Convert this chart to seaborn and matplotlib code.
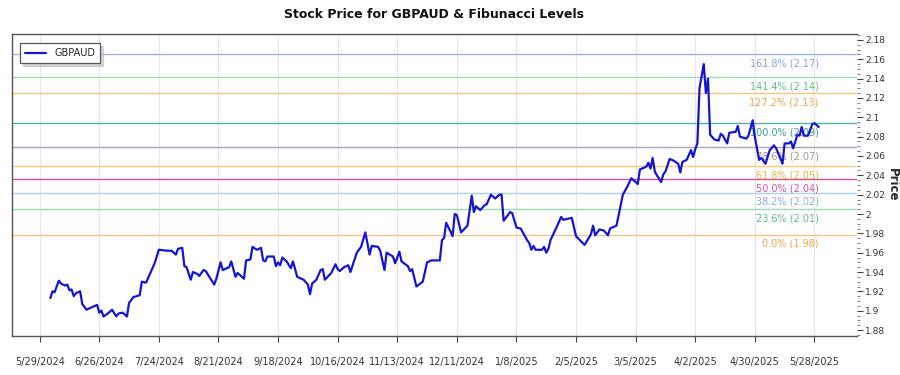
import matplotlib
matplotlib.use("Agg")
import matplotlib.pyplot as plt
import matplotlib.ticker as mticker
import seaborn as sns
import pandas as pd
import numpy as np

dates = [
    "2024-06-03", "2024-06-04", "2024-06-05", "2024-06-07", "2024-06-08", "2024-06-10", "2024-06-11", "2024-06-12",
    "2024-06-13", "2024-06-14", "2024-06-15", "2024-06-17", "2024-06-18", "2024-06-20", "2024-06-21", "2024-06-25",
    "2024-06-26", "2024-06-27", "2024-06-28", "2024-06-30", "2024-07-02", "2024-07-04", "2024-07-05", "2024-07-07",
    "2024-07-09", "2024-07-10", "2024-07-12", "2024-07-15", "2024-07-16", "2024-07-18", "2024-07-22", "2024-07-24",
    "2024-07-28", "2024-07-30", "2024-08-01", "2024-08-02", "2024-08-04", "2024-08-05", "2024-08-06", "2024-08-08",
    "2024-08-09", "2024-08-11", "2024-08-12", "2024-08-14", "2024-08-15", "2024-08-19", "2024-08-20", "2024-08-22",
    "2024-08-23", "2024-08-26", "2024-08-27", "2024-08-29", "2024-08-30", "2024-09-02", "2024-09-03", "2024-09-05",
    "2024-09-06", "2024-09-08", "2024-09-10", "2024-09-11", "2024-09-12", "2024-09-13", "2024-09-16", "2024-09-17",
    "2024-09-18", "2024-09-19", "2024-09-20", "2024-09-22", "2024-09-24", "2024-09-25", "2024-09-27", "2024-09-30",
    "2024-10-02", "2024-10-03", "2024-10-04", "2024-10-06", "2024-10-08", "2024-10-09", "2024-10-10", "2024-10-13",
    "2024-10-15", "2024-10-16", "2024-10-17", "2024-10-19", "2024-10-21", "2024-10-22", "2024-10-25", "2024-10-27",
    "2024-10-29", "2024-10-31", "2024-11-01", "2024-11-04", "2024-11-05", "2024-11-07", "2024-11-08", "2024-11-11",
    "2024-11-12", "2024-11-14", "2024-11-15", "2024-11-18", "2024-11-19", "2024-11-20", "2024-11-22", "2024-11-25",
    "2024-11-27", "2024-11-29", "2024-12-03", "2024-12-04", "2024-12-05", "2024-12-06", "2024-12-08", "2024-12-09",
    "2024-12-10", "2024-12-11", "2024-12-13", "2024-12-16", "2024-12-18", "2024-12-19", "2024-12-20", "2024-12-22",
    "2024-12-24", "2024-12-25", "2024-12-27", "2024-12-29", "2024-12-31", "2025-01-01", "2025-01-02", "2025-01-05",
    "2025-01-06", "2025-01-08", "2025-01-10", "2025-01-13", "2025-01-14", "2025-01-15", "2025-01-16", "2025-01-17",
    "2025-01-20", "2025-01-21", "2025-01-22", "2025-01-23", "2025-01-24", "2025-01-27", "2025-01-29", "2025-01-30",
    "2025-02-03", "2025-02-05", "2025-02-09", "2025-02-12", "2025-02-13", "2025-02-14", "2025-02-16", "2025-02-18",
    "2025-02-20", "2025-02-21", "2025-02-24", "2025-02-26", "2025-02-27", "2025-03-01", "2025-03-03", "2025-03-05",
    "2025-03-06", "2025-03-07", "2025-03-10", "2025-03-11", "2025-03-12", "2025-03-13", "2025-03-14", "2025-03-15",
    "2025-03-17", "2025-03-18", "2025-03-19", "2025-03-21", "2025-03-23", "2025-03-25", "2025-03-26", "2025-03-27",
    "2025-03-29", "2025-03-31", "2025-04-01", "2025-04-02", "2025-04-03", "2025-04-04", "2025-04-06", "2025-04-07",
    "2025-04-08", "2025-04-09", "2025-04-11", "2025-04-13", "2025-04-14", "2025-04-15", "2025-04-17", "2025-04-18",
    "2025-04-21", "2025-04-22", "2025-04-23", "2025-04-26", "2025-04-27", "2025-04-29", "2025-04-30", "2025-05-02",
    "2025-05-03", "2025-05-05", "2025-05-07", "2025-05-09", "2025-05-10", "2025-05-13", "2025-05-14", "2025-05-16",
    "2025-05-17", "2025-05-18", "2025-05-20", "2025-05-21", "2025-05-22", "2025-05-23", "2025-05-25", "2025-05-27",
    "2025-05-28", "2025-05-29", "2025-05-30",
]

prices = [
    1.913, 1.920, 1.919, 1.931, 1.928, 1.926, 1.927, 1.921,
    1.922, 1.915, 1.918, 1.920, 1.907, 1.901, 1.902, 1.906,
    1.898, 1.900, 1.894, 1.897, 1.901, 1.894, 1.897, 1.898,
    1.894, 1.908, 1.914, 1.916, 1.930, 1.929, 1.949, 1.963,
    1.962, 1.962, 1.958, 1.964, 1.965, 1.946, 1.945, 1.932,
    1.940, 1.938, 1.936, 1.942, 1.941, 1.927, 1.933, 1.950,
    1.942, 1.945, 1.951, 1.935, 1.939, 1.933, 1.952, 1.953,
    1.966, 1.963, 1.965, 1.952, 1.951, 1.956, 1.956, 1.946,
    1.950, 1.947, 1.955, 1.951, 1.944, 1.951, 1.935, 1.932,
    1.927, 1.917, 1.928, 1.932, 1.942, 1.943, 1.932, 1.939,
    1.948, 1.943, 1.941, 1.945, 1.947, 1.940, 1.960, 1.966,
    1.981, 1.958, 1.967, 1.966, 1.962, 1.942, 1.960, 1.956,
    1.949, 1.961, 1.951, 1.946, 1.941, 1.943, 1.925, 1.930,
    1.950, 1.952, 1.952, 1.973, 1.975, 1.991, 1.982, 1.977,
    2.000, 1.999, 1.981, 1.988, 2.019, 2.002, 2.008, 2.004,
    2.009, 2.010, 2.020, 2.016, 2.020, 2.020, 1.993, 2.002,
    2.001, 1.986, 1.985, 1.973, 1.970, 1.963, 1.967, 1.963,
    1.963, 1.966, 1.960, 1.964, 1.973, 1.987, 1.997, 1.994,
    1.996, 1.977, 1.968, 1.979, 1.988, 1.978, 1.984, 1.983,
    1.978, 1.985, 1.988, 2.009, 2.020, 2.028, 2.037, 2.033,
    2.031, 2.046, 2.049, 2.053, 2.047, 2.058, 2.044, 2.040,
    2.033, 2.041, 2.044, 2.057, 2.055, 2.052, 2.043, 2.054,
    2.056, 2.066, 2.059, 2.067, 2.073, 2.130, 2.155, 2.125,
    2.140, 2.082, 2.077, 2.076, 2.083, 2.081, 2.073, 2.084,
    2.085, 2.091, 2.080, 2.078, 2.081, 2.097, 2.080, 2.056,
    2.058, 2.052, 2.066, 2.071, 2.068, 2.052, 2.073, 2.073,
    2.075, 2.068, 2.082, 2.081, 2.090, 2.081, 2.081, 2.093,
    2.094, 2.092, 2.090,
]

fib_pcts = ["161.8%", "141.4%", "127.2%", "100.0%", "78.6%", "61.8%", "50.0%", "38.2%", "23.6%", "0.0%"]
fib_values = [2.1652, 2.1413, 2.1252, 2.0938, 2.0688, 2.0494, 2.0358, 2.0221, 2.0053, 1.9785]
fib_labels = ["2.17", "2.14", "2.13", "2.09", "2.07", "2.05", "2.04", "2.02", "2.01", "1.98"]
fib_line_colors = ["#9db3e6", "#9fd8b4", "#f5c487", "#5aaea8", "#a4a8b8", "#f4cf80", "#d0529a", "#b3ccf2", "#9fd8b4", "#f5c487"]
fib_text_colors = ["#86a3e0", "#5fbf86", "#f2a54c", "#3f9e93", "#9a9a9a", "#e6b43c", "#d4579c", "#86a8e8", "#5fbf86", "#f2a54c"]

tick_dates = ["2024-05-29", "2024-06-26", "2024-07-24", "2024-08-21", "2024-09-18", "2024-10-16", "2024-11-13",
              "2024-12-11", "2025-01-08", "2025-02-05", "2025-03-05", "2025-04-02", "2025-04-30", "2025-05-28"]
tick_labels = ["5/29/2024", "6/26/2024", "7/24/2024", "8/21/2024", "9/18/2024", "10/16/2024", "11/13/2024",
               "12/11/2024", "1/8/2025", "2/5/2025", "3/5/2025", "4/2/2025", "4/30/2025", "5/28/2025"]

sns.set_theme(style="white")
plt.rcParams['font.family'] = ['DejaVu Sans']

df = pd.DataFrame({"Date": pd.to_datetime(dates), "Price": prices})

fig = plt.figure(figsize=(9, 3.75), dpi=100)
ax = fig.add_axes([12 / 900, 1 - 336 / 375, (857 - 12) / 900, (336 - 34) / 375])

# vertical grid
for td in tick_dates:
    ax.axvline(pd.Timestamp(td), color="#e6e6e6", lw=0.8, zorder=0)

# fib lines + labels
label_x = pd.Timestamp("2025-05-30")
for pct, val, lab, lc, tc in zip(fib_pcts, fib_values, fib_labels, fib_line_colors, fib_text_colors):
    ax.axhline(val, color=lc, lw=1.0, zorder=1)
    ax.annotate(f"{pct} ({lab})", xy=(label_x, val), xytext=(0, -3), textcoords="offset points",
                ha="right", va="top", fontsize=7, color=tc, zorder=2)

sns.lineplot(data=df, x="Date", y="Price", ax=ax, color="#1515d0", lw=1.6, label="GBPAUD", zorder=3)

ax.set_xlim(pd.Timestamp("2024-05-16"), pd.Timestamp("2025-06-17"))
ax.set_ylim(1.8738, 2.1862)

ax.set_xticks(pd.to_datetime(tick_dates))
ax.set_xticklabels(tick_labels, fontsize=7, color="#333333")
ax.tick_params(axis="x", direction="out", length=4, width=0.8, color="#444444", pad=11, bottom=True)

ax.yaxis.tick_right()
ax.set_yticks(np.round(np.arange(1.88, 2.1801, 0.02), 2))
ax.yaxis.set_major_formatter(mticker.FuncFormatter(lambda v, p: f"{v:.2f}".rstrip("0").rstrip(".")))
ax.yaxis.set_minor_locator(mticker.MultipleLocator(0.005))
ax.tick_params(axis="y", which="major", direction="out", length=4, width=0.8, color="#444444",
               labelsize=6.5, labelcolor="#333333", right=True, left=False, pad=2)
ax.tick_params(axis="y", which="minor", direction="out", length=2, width=0.6, color="#666666",
               right=True, left=False)

ax.set_xlabel("")
ax.yaxis.set_label_position("right")
ax.set_ylabel("Price", fontsize=8.5, fontweight="bold", rotation=270)
ax.yaxis.label.set_verticalalignment("center")
ax.yaxis.label.set_horizontalalignment("center")
ax.yaxis.set_label_coords((892 - 12) / 845, 0.5)

for side in ["left", "top", "bottom"]:
    ax.spines[side].set_color("#555555")
    ax.spines[side].set_linewidth(1.0)
ax.spines["right"].set_visible(False)

leg = ax.legend(loc="upper left", fontsize=7, frameon=True, fancybox=False,
                shadow={"color": "#bbbbbb", "alpha": 0.6},
                borderpad=0.5, handlelength=2.2, bbox_to_anchor=(0.004, 0.985))
leg.get_frame().set_edgecolor("#555555")
leg.get_frame().set_linewidth(0.9)

fig.text(434.5 / 900, 1 - 15 / 375, "Stock Price for GBPAUD & Fibunacci Levels", ha="center", va="center",
         fontsize=9, fontweight="bold", color="#111111")

fig.savefig("out.png", dpi=100)
